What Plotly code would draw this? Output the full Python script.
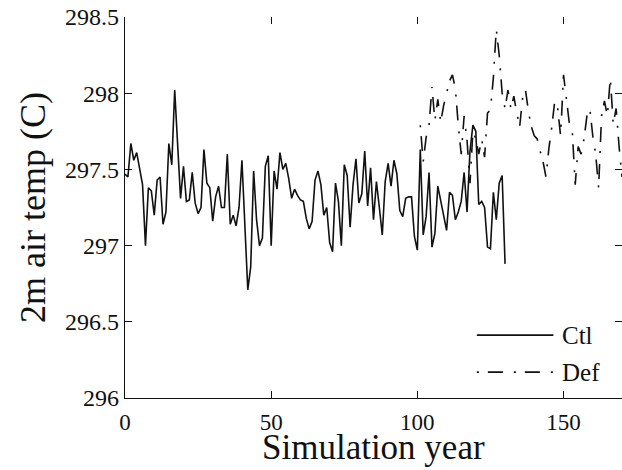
import plotly.graph_objects as go

ctl_start_year = 0
ctl_values = [
    297.47, 297.45, 297.67, 297.56, 297.61, 297.51, 297.40, 297.00, 297.38, 297.36,
    297.20, 297.43, 297.45, 297.14, 297.22, 297.67, 297.53, 298.02, 297.69, 297.31,
    297.52, 297.29, 297.30, 297.48, 297.28, 297.21, 297.25, 297.63, 297.41, 297.38,
    297.16, 297.32, 297.39, 297.25, 297.25, 297.60, 297.14, 297.20, 297.13, 297.25,
    297.56, 297.12, 296.71, 296.86, 297.49, 297.17, 297.00, 297.05, 297.52, 297.59,
    297.00, 297.49, 297.37, 297.61, 297.50, 297.54, 297.44, 297.31, 297.37, 297.33,
    297.30, 297.29, 297.18, 297.11, 297.16, 297.43, 297.49, 297.40, 297.20, 297.25,
    297.02, 296.96, 297.41, 297.29, 297.00, 297.53, 297.46, 297.12, 297.40, 297.57,
    297.28, 297.34, 297.62, 297.26, 297.51, 297.17, 297.42, 297.25, 297.07, 297.42,
    297.54, 297.39, 297.56, 297.47, 297.23, 297.19, 297.31, 297.32, 297.32, 297.06,
    296.97, 297.63, 297.07, 297.19, 297.48, 296.99, 297.08, 297.39, 297.30, 297.21,
    297.10, 297.35, 297.33, 297.17, 297.22, 297.29, 297.48, 297.22, 297.62, 297.79,
    297.75, 297.27, 297.29, 297.25, 296.99, 296.98, 297.35, 297.17, 297.41, 297.46,
    296.88,
]

def_start_year = 101
def_values = [
    297.79, 297.55, 297.71, 297.79, 298.04, 297.82, 297.96, 297.81, 297.92, 298.00,
    298.08, 298.12, 298.03, 297.79, 297.60, 297.85, 297.69, 297.41, 297.75, 297.70,
    297.60, 297.70, 297.58, 297.87, 297.89, 298.10, 298.42, 298.25, 298.00, 297.90,
    298.02, 297.90, 297.98, 297.87, 297.78, 297.97, 298.02, 297.88, 297.78, 297.72,
    297.70, 297.62, 297.55, 297.45, 297.64, 297.78, 297.95, 297.90, 297.72, 298.12,
    297.95, 297.80, 297.75, 297.40, 297.65, 297.60, 297.70, 297.85, 297.90, 297.72,
    297.60, 297.38, 297.85, 297.95, 297.85, 298.10, 297.80, 297.90, 297.65, 297.45,
]

x_ticks = [0, 50, 100, 150]
y_ticks = [296, 296.5, 297, 297.5, 298, 298.5]
y_tick_text = ["296", "296.5", "297", "297.5", "298", "298.5"]
legend_names = ["Ctl", "Def"]
x_title = "Simulation year"
y_title = "2m air temp (C)"

ctl_years = list(range(ctl_start_year, ctl_start_year + len(ctl_values)))
def_years = list(range(def_start_year, def_start_year + len(def_values)))

FONT = "Liberation Serif, Times New Roman, serif"
DEF_DASH = "2px,9px,15px,11px"

fig = go.Figure()
fig.add_trace(go.Scatter(x=ctl_years, y=ctl_values, mode="lines", name=legend_names[0],
                         line=dict(color="#111111", width=1.6), showlegend=False))
fig.add_trace(go.Scatter(x=def_years, y=def_values, mode="lines", name=legend_names[1],
                         line=dict(color="#111111", width=1.6, dash=DEF_DASH), showlegend=False))
# invisible trace so the mirrored tick-only axes are drawn
fig.add_trace(go.Scatter(x=[None], y=[None], xaxis="x2", yaxis="y2", showlegend=False, hoverinfo="skip"))

axis_common = dict(ticks="inside", ticklen=7, tickwidth=1, tickcolor="#111111",
                   showgrid=False, zeroline=False, automargin=False)

fig.update_layout(
    width=622, height=470,
    margin=dict(l=125, r=0, t=17, b=72),
    paper_bgcolor="white", plot_bgcolor="white",
    font=dict(family=FONT, color="#111111"),
    xaxis=dict(range=[0, 170], tickvals=x_ticks, showline=True, linecolor="#111111", linewidth=1.2,
               tickfont=dict(size=23, family=FONT), ticklabelstandoff=3,
               **axis_common),
    yaxis=dict(range=[296, 298.5], tickvals=y_ticks, ticktext=y_tick_text, showline=True,
               linecolor="#111111", linewidth=1.2, tickfont=dict(size=24, family=FONT),
               title=dict(text=y_title, font=dict(size=36, family=FONT), standoff=8),
               **axis_common),
    xaxis2=dict(range=[0, 170], tickvals=x_ticks, overlaying="x", side="top", showline=False,
                showticklabels=False, **axis_common),
    yaxis2=dict(range=[296, 298.5], tickvals=y_ticks, overlaying="y", side="right", showline=False,
                showticklabels=False, **axis_common),
    showlegend=False,
)

# x-axis title placed at the bottom edge, below the tick labels
fig.add_annotation(xref="paper", yref="paper", x=0.5, y=-0.187, text=x_title, showarrow=False,
                   xanchor="center", yanchor="bottom", font=dict(size=35, family=FONT, color="#111111"))

# manual legend (long line samples as in the reference)
legend_rows = [(0.165, None), (0.068, DEF_DASH)]
for name, (yp, dash) in zip(legend_names, legend_rows):
    line = dict(color="#111111", width=1.6)
    if dash:
        line["dash"] = dash
    fig.add_shape(type="line", xref="paper", yref="paper", x0=0.708, x1=0.862, y0=yp, y1=yp, line=line)
    fig.add_annotation(xref="paper", yref="paper", x=0.876, y=yp, text=name, showarrow=False,
                       xanchor="left", yanchor="middle", font=dict(size=25, family=FONT, color="#111111"))

fig.write_html(
    "out.html",
    config={"displayModeBar": False},
    post_script="document.body.style.margin='0';document.body.style.padding='0';",
)
